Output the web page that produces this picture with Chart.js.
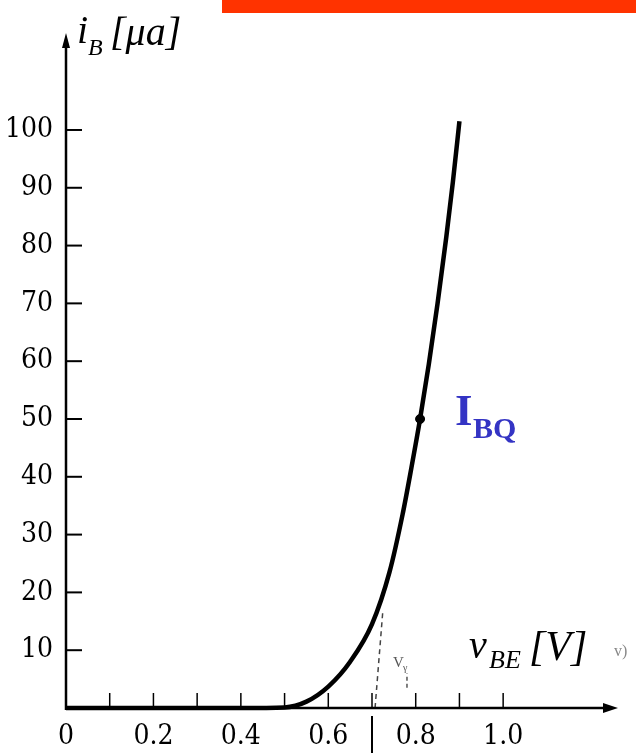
<!DOCTYPE html>
<html><head><meta charset="utf-8">
<script src="https://cdn.jsdelivr.net/npm/chart.js@4.4.1/dist/chart.umd.min.js"></script>
<style>
html,body{margin:0;padding:0;background:#fff;}
#wrap{position:relative;width:636px;height:753px;overflow:hidden;}
#bar{position:absolute;left:222px;top:0;width:414px;height:13px;background:#ff3300;}
canvas{position:absolute;left:0;top:0;}
</style></head><body>
<div id="wrap"><canvas id="c" width="636" height="753"></canvas><div id="bar"></div></div>
<script>
// ---- data ----
const vBE = [0, 0.1, 0.2, 0.3, 0.4, 0.5, 0.55, 0.6, 0.65, 0.7, 0.74, 0.77, 0.79, 0.81, 0.83, 0.85, 0.87, 0.885, 0.9];
const iB  = [0, 0, 0, 0, 0, 0.1, 1.1, 3.7, 8.0, 14.5, 23.5, 33.5, 41.5, 50, 59.5, 70, 81.5, 91, 101.5];
const qV = [0.81];           // operating point I_BQ
const qI = [50];
const tanV = [0.707, 0.725]; // dashed construction line
const tanI = [0, 17];
const markV = [0.78, 0.78];
const markI = [3.5, 6];
const xTickValues = [0, 0.1, 0.2, 0.3, 0.4, 0.5, 0.6, 0.7, 0.8, 0.9, 1.0];
const xTickLabels = ['0', '', '0.2', '', '0.4', '', '0.6', '', '0.8', '', '1.0'];
const yTickValues = [10, 20, 30, 40, 50, 60, 70, 80, 90, 100];
const yTickLabels = ['10', '20', '30', '40', '50', '60', '70', '80', '90', '100'];
const xMax = 1.233, yMax = 114.7;
const tickFont = "'DejaVu Serif Condensed', 'Liberation Serif', serif";

const pts = (xs, ys) => xs.map((v, i) => ({x: v, y: ys[i]}));

const axisPlugin = {
  id: 'axes',
  afterDatasetsDraw(chart) {
    const ctx = chart.ctx, a = chart.chartArea;
    const xs = chart.scales.x, ys = chart.scales.y;
    const x0 = xs.getPixelForValue(0), y0 = ys.getPixelForValue(0);
    ctx.save();
    ctx.strokeStyle = '#000'; ctx.fillStyle = '#000';
    ctx.lineWidth = 2.5;
    ctx.beginPath(); ctx.moveTo(x0, y0 + 2); ctx.lineTo(x0, a.top); ctx.stroke();
    ctx.beginPath(); ctx.moveTo(x0, a.top - 12); ctx.lineTo(x0 - 4, a.top + 3); ctx.lineTo(x0 + 4, a.top + 3); ctx.closePath(); ctx.fill();
    ctx.beginPath(); ctx.moveTo(x0 - 1, y0); ctx.lineTo(a.right, y0); ctx.stroke();
    ctx.beginPath(); ctx.moveTo(a.right + 13, y0); ctx.lineTo(a.right - 2, y0 - 5); ctx.lineTo(a.right - 2, y0 + 5); ctx.closePath(); ctx.fill();
    // inward ticks
    ctx.lineWidth = 2;
    yTickValues.forEach(v => { const y = ys.getPixelForValue(v); ctx.beginPath(); ctx.moveTo(x0, y); ctx.lineTo(x0 + 16, y); ctx.stroke(); });
    ctx.lineWidth = 1.5;
    xTickValues.forEach(v => { if (v === 0) return; const x = xs.getPixelForValue(v); ctx.beginPath(); ctx.moveTo(x, y0); ctx.lineTo(x, y0 - 15); ctx.stroke(); });
    // bar below axis at 0.7
    const x7 = xs.getPixelForValue(0.7);
    ctx.lineWidth = 2;
    ctx.beginPath(); ctx.moveTo(x7, y0 + 8); ctx.lineTo(x7, 753); ctx.stroke();
    // texts
    ctx.textBaseline = 'alphabetic'; ctx.textAlign = 'left';
    ctx.fillStyle = '#000';
    ctx.font = "italic 40px 'Liberation Serif', serif";
    ctx.fillText('i', x0 + 11, 43);
    ctx.font = "italic 24px 'Liberation Serif', serif";
    ctx.fillText('B', x0 + 22, 55);
    ctx.font = "italic 40px 'Liberation Serif', serif";
    ctx.fillText('[\u03bca]', x0 + 44, 45);
    // v_BE label
    ctx.font = "italic 40px 'Liberation Serif', serif";
    ctx.fillText('v', 469, 658);
    ctx.font = "italic 26px 'Liberation Serif', serif";
    ctx.fillText('BE', 489, 668);
    ctx.font = "italic 42px 'Liberation Serif', serif";
    ctx.fillText('[V]', 529, 660);
    ctx.fillStyle = '#888';
    ctx.font = "16px 'Liberation Serif', serif";
    ctx.fillText('v)', 614, 656);
    // V_gamma
    ctx.fillStyle = '#555';
    ctx.font = "15px 'Liberation Serif', serif";
    ctx.fillText('V', 393, 667);
    ctx.font = "10px 'Liberation Serif', serif";
    ctx.fillText('\u03b3', 403, 671);
    // I_BQ
    const qx = xs.getPixelForValue(qV[0]), qy = ys.getPixelForValue(qI[0]);
    ctx.fillStyle = '#3434c4';
    ctx.font = "bold 45px 'Liberation Serif', serif";
    ctx.fillText('I', qx + 35, qy + 6);
    ctx.font = "bold 30px 'Liberation Serif', serif";
    ctx.fillText('BQ', qx + 53, qy + 19);
    ctx.restore();
  }
};

new Chart(document.getElementById('c'), {
  type: 'scatter',
  data: { datasets: [
    { data: pts(vBE, iB), showLine: true, borderColor: '#000', borderWidth: 4.5, pointRadius: 0,
      cubicInterpolationMode: 'monotone', clip: false },
    { data: pts(qV, qI), pointRadius: 4.5, backgroundColor: '#000', borderColor: '#000', clip: false },
    { data: pts(tanV, tanI), showLine: true, borderColor: '#444', borderWidth: 1.5, borderDash: [5, 4], pointRadius: 0, clip: false },
    { data: pts(markV, markI), showLine: true, borderColor: '#555', borderWidth: 1.5, borderDash: [4, 3], pointRadius: 0, clip: false }
  ]},
  options: {
    responsive: false, animation: false, devicePixelRatio: 1,
    layout: { padding: { top: 45, right: 31, left: 0, bottom: 0 } },
    plugins: { legend: { display: false }, tooltip: { enabled: false } },
    scales: {
      x: {
        type: 'linear', min: 0, max: xMax,
        grid: { display: false, drawTicks: false }, border: { display: false },
        afterBuildTicks: s => { s.ticks = xTickValues.map(v => ({ value: v })); },
        afterFit: s => { s.height = 45; },
        ticks: { autoSkip: false, maxRotation: 0, minRotation: 0, padding: 12,
          callback: (v, i) => xTickLabels[i], color: '#000', font: { family: tickFont, size: 28 } }
      },
      y: {
        type: 'linear', min: 0, max: yMax,
        grid: { display: false, drawTicks: false }, border: { display: false },
        afterBuildTicks: s => { s.ticks = yTickValues.map(v => ({ value: v })); },
        afterFit: s => { s.width = 66; },
        ticks: { autoSkip: false, padding: 13,
          callback: (v, i) => yTickLabels[i], color: '#000', font: { family: tickFont, size: 28 } }
      }
    }
  },
  plugins: [axisPlugin]
});
</script>
</body></html>
